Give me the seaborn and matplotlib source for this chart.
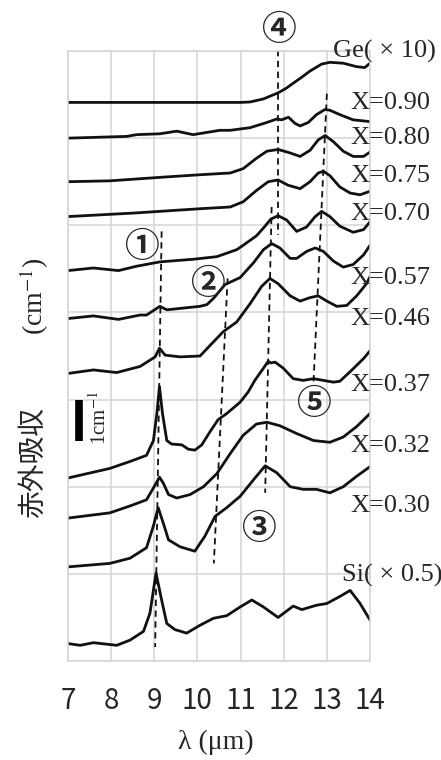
import matplotlib
matplotlib.use("Agg")
import matplotlib.pyplot as plt
import seaborn as sns
import pandas as pd

sns.set_style("white")
plt.rcParams['font.family'] = ['Liberation Serif', 'DejaVu Sans']

# spectra (wavelength in um, offset absorption)
ge_x = [7.0, 11.0, 11.22, 11.53, 11.87, 12.05, 12.22, 12.42, 12.61, 12.88, 13.07, 13.38, 13.69, 13.88, 14.0]
ge_y = [6.41, 6.41, 6.415, 6.45, 6.52, 6.57, 6.63, 6.70, 6.77, 6.85, 6.87, 6.86, 6.82, 6.81, 6.86]

x90_x = [7.0, 8.36, 8.59, 9.13, 9.52, 9.90, 10.52, 10.76, 11.22, 11.61, 11.84, 11.95, 12.11, 12.26, 12.38,
         12.57, 12.76, 12.96, 13.07, 13.30, 13.61, 14.0]
x90_y = [6.00, 6.02, 6.04, 6.05, 6.08, 6.04, 6.09, 6.09, 6.12, 6.18, 6.22, 6.21, 6.24, 6.17, 6.14,
         6.18, 6.27, 6.33, 6.32, 6.27, 6.21, 6.19]

x80_x = [7.0, 7.97, 9.13, 10.06, 10.76, 11.06, 11.37, 11.61, 11.87, 12.15, 12.38, 12.61, 12.80, 12.96,
         13.15, 13.38, 13.61, 13.85, 14.0]
x80_y = [5.50, 5.51, 5.55, 5.58, 5.60, 5.65, 5.77, 5.85, 5.87, 5.83, 5.79, 5.86, 5.98, 6.03,
         5.96, 5.85, 5.79, 5.79, 5.84]

x75_x = [7.0, 8.51, 10.06, 10.76, 11.06, 11.37, 11.64, 11.87, 12.10, 12.38, 12.61, 12.80, 12.92, 13.07,
         13.30, 13.54, 13.77, 14.0]
x75_y = [5.10, 5.14, 5.19, 5.21, 5.27, 5.40, 5.50, 5.52, 5.46, 5.42, 5.50, 5.60, 5.62, 5.57,
         5.44, 5.37, 5.35, 5.39]

x70_x = [7.0, 7.59, 8.17, 8.59, 9.13, 9.90, 10.45, 10.91, 11.06, 11.37, 11.55, 11.70, 11.87, 12.07,
         12.30, 12.53, 12.73, 12.88, 13.07, 13.30, 13.61, 13.85, 14.0]
x70_y = [4.48, 4.51, 4.48, 4.53, 4.58, 4.61, 4.64, 4.72, 4.77, 4.88, 4.98, 5.07, 5.11, 5.06,
         4.93, 4.98, 5.10, 5.16, 5.10, 4.99, 4.92, 4.95, 5.04]

x57_x = [7.0, 7.59, 8.17, 8.67, 8.82, 9.13, 9.29, 10.06, 10.22, 10.37, 10.64, 10.99, 11.30, 11.53,
         11.72, 11.91, 12.15, 12.30, 12.53, 12.73, 12.92, 13.15, 13.38, 13.61, 13.85, 14.0]
x57_y = [3.93, 3.96, 3.92, 3.97, 3.97, 4.07, 4.03, 4.07, 4.09, 4.16, 4.32, 4.40, 4.57, 4.72,
         4.79, 4.74, 4.62, 4.62, 4.70, 4.74, 4.70, 4.59, 4.52, 4.55, 4.66, 4.77]

x46_x = [7.0, 7.59, 8.13, 8.67, 9.02, 9.12, 9.25, 9.60, 10.06, 10.29, 10.60, 10.91, 11.22, 11.49,
         11.68, 11.87, 12.15, 12.38, 12.61, 12.80, 13.0, 13.23, 13.46, 13.69, 13.92, 14.0]
x46_y = [3.30, 3.34, 3.31, 3.38, 3.49, 3.59, 3.51, 3.49, 3.50, 3.62, 3.78, 3.89, 4.10, 4.30,
         4.39, 4.33, 4.19, 4.13, 4.17, 4.19, 4.13, 4.07, 4.08, 4.19, 4.33, 4.41]

x37_x = [7.0, 7.97, 8.44, 8.82, 8.98, 9.06, 9.12, 9.19, 9.29, 9.40, 9.64, 9.79, 9.94, 10.10, 10.29,
         10.48, 10.68, 10.99, 11.18, 11.33, 11.53, 11.64, 11.70, 11.80, 11.99, 12.22, 12.45, 12.69,
         12.92, 13.15, 13.30, 13.54, 13.85, 14.0]
x37_y = [2.10, 2.21, 2.29, 2.36, 2.53, 2.84, 3.15, 2.84, 2.53, 2.49, 2.48, 2.43, 2.42, 2.48, 2.63,
         2.77, 2.84, 2.97, 3.09, 3.22, 3.36, 3.44, 3.42, 3.43, 3.36, 3.24, 3.22, 3.24,
         3.22, 3.20, 3.21, 3.32, 3.47, 3.56]

x32_x = [7.0, 7.97, 8.44, 8.82, 9.02, 9.12, 9.21, 9.33, 9.52, 9.83, 10.14, 10.45, 10.76, 11.06, 11.37,
         11.61, 11.91, 12.30, 12.69, 13.07, 13.38, 13.69, 14.0]
x32_y = [1.64, 1.70, 1.78, 1.85, 2.02, 2.11, 2.04, 1.91, 1.87, 1.91, 2.00, 2.15, 2.38, 2.59, 2.72,
         2.74, 2.70, 2.61, 2.53, 2.51, 2.57, 2.69, 2.84]

x30_x = [7.0, 7.97, 8.44, 8.82, 8.98, 9.09, 9.21, 9.33, 9.60, 9.94, 10.17, 10.41, 10.68, 10.99, 11.30,
         11.57, 11.84, 12.15, 12.45, 12.76, 13.07, 13.38, 13.69, 14.0]
x30_y = [1.08, 1.12, 1.18, 1.30, 1.55, 1.76, 1.58, 1.39, 1.31, 1.26, 1.43, 1.66, 1.76, 1.89, 2.08,
         2.24, 2.16, 2.00, 1.97, 1.97, 1.93, 2.00, 2.12, 2.23]

si_x = [7.0, 7.28, 7.59, 7.86, 8.13, 8.44, 8.75, 8.90, 9.04, 9.17, 9.29, 9.48, 9.75, 10.06, 10.37,
        10.68, 10.99, 11.26, 11.53, 11.87, 12.22, 12.42, 12.76, 13.0, 13.30, 13.54, 13.77, 14.0]
si_y = [0.20, 0.18, 0.21, 0.195, 0.18, 0.24, 0.34, 0.55, 1.01, 0.70, 0.43, 0.36, 0.32, 0.41, 0.49,
        0.52, 0.62, 0.70, 0.62, 0.50, 0.63, 0.59, 0.64, 0.66, 0.74, 0.81, 0.66, 0.47]

curve_names = ['Ge( × 10)', 'X=0.90', 'X=0.80', 'X=0.75', 'X=0.70', 'X=0.57',
               'X=0.46', 'X=0.37', 'X=0.32', 'X=0.30', 'Si( × 0.5)']
curve_xs = [ge_x, x90_x, x80_x, x75_x, x70_x, x57_x, x46_x, x37_x, x32_x, x30_x, si_x]
curve_ys = [ge_y, x90_y, x80_y, x75_y, x70_y, x57_y, x46_y, x37_y, x32_y, x30_y, si_y]

# label anchors (left x, baseline y)
label_pos = [(13.14, 6.92), (13.54, 6.34), (13.54, 5.93), (13.54, 5.50), (13.54, 5.06),
             (13.54, 4.33), (13.54, 3.86), (13.54, 3.10), (13.54, 2.40), (13.54, 1.71),
             (13.34, 0.91)]

# guide lines for peaks 1..5: (x_top, y_top, x_bottom, y_bottom)
guides = [(9.17, 4.93, 9.02, 0.16),
          (10.70, 4.39, 10.38, 1.12),
          (11.72, 5.21, 11.57, 1.93),
          (11.875, 7.01, 11.875, 4.89),
          (13.0, 6.51, 12.69, 3.19)]
marks = ['①', '②', '③', '④', '⑤']
mark_pos = [(8.71, 4.76), (10.22, 4.33), (11.41, 1.52), (11.87, 7.25), (12.69, 2.95)]

rows = []
for name, xs, ys in zip(curve_names, curve_xs, curve_ys):
    for i, (a, b) in enumerate(zip(xs, ys)):
        rows.append({'curve': name, 'wl': a, 'abs': b, 'i': i})
df = pd.DataFrame(rows)

fig = plt.figure(figsize=(4.41, 7.6), dpi=100)
ax = fig.add_axes([68 / 441, 1 - 661 / 760, 302 / 441, 610 / 760])

sns.lineplot(data=df, x='wl', y='abs', units='curve', estimator=None, sort=False,
             color='#111111', linewidth=2.0, ax=ax, legend=False)
for ln in ax.get_lines():
    ln.set_solid_joinstyle('round')

for xt, yt, xb, yb in guides:
    ax.plot([xt, xb], [yt, yb], color='#111111', lw=1.3, linestyle=(0, (3.5, 2.5)))

for m, (mx, my) in zip(marks, mark_pos):
    ax.text(mx, my, m, ha='center', va='center', fontsize=25, fontweight='bold',
            family=['Noto Sans CJK JP', 'DejaVu Sans'], clip_on=False)

for name, (lx, ly) in zip(curve_names, label_pos):
    ax.text(lx, ly, name, ha='left', va='baseline', fontsize=19, clip_on=False,
            family=['Liberation Serif', 'DejaVu Sans'])

# scale bar
ax.plot([7.25, 7.25], [2.52, 3.0], color='black', lw=5.5, solid_capstyle='butt')
ax.text(7.74, 2.79, '1cm$^{-1}$', rotation=90, ha='center', va='center', fontsize=15,
        math_fontfamily='stix')

ax.set_xlim(7, 14)
ax.set_ylim(0, 7)
ax.set_xticks(range(7, 15))
ax.set_yticks(range(0, 8))
ax.set_yticklabels([])
ax.set_xticklabels([str(v) for v in range(7, 15)], fontsize=20,
                   family=['Noto Sans CJK JP', 'DejaVu Sans'])
ax.tick_params(axis='both', length=0, pad=18)
ax.grid(True, color='#d4d4d4', linewidth=1.1)
for s in ax.spines.values():
    s.set_color('#d4d4d4')
    s.set_linewidth(1.1)
ax.set_axisbelow(True)
ax.set_xlabel('')
ax.set_ylabel('')

fig.text(216 / 441, 1 - 742 / 760, 'λ (μm)', ha='center', va='center', fontsize=20,
         family=['Liberation Serif', 'DejaVu Sans'])
fig.text(33 / 441, 1 - 463 / 760, '赤外吸収', rotation=90, ha='center', va='center',
         fontsize=20, family=['Noto Sans CJK JP', 'DejaVu Sans'])
fig.text(34 / 441, 1 - 296 / 760, '(cm$^{-1}$)', rotation=90, ha='center', va='center',
         fontsize=20, family=['Liberation Serif', 'DejaVu Sans'], math_fontfamily='stix')

fig.savefig('out.png', dpi=100)
